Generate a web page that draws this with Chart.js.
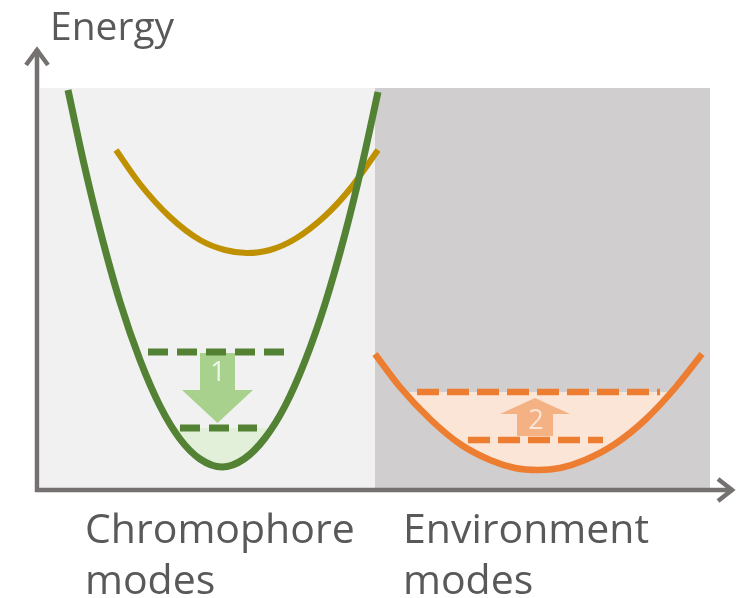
<!DOCTYPE html>
<html>
<head>
<meta charset="utf-8">
<script src="https://cdn.jsdelivr.net/npm/chart.js@4.4.0/dist/chart.umd.min.js"></script>
<style>
    html, body { margin: 0; padding: 0; background: #fff; }
</style>
</head>
<body>
<canvas id="energyChart" width="742" height="598"></canvas>
<script>
// chromophore ground state (green) and excited state (gold) curves
const groundX = [2.8, 4.4, 6.0, 8.0, 10.0, 12.0, 14.0, 16.0, 18.2, 20.4, 22.5, 24.5, 26.5, 28.5, 30.5, 32.2, 33.8];
const groundY = [39.8, 32.4, 25.8, 18.6, 12.8, 8.2, 4.9, 2.9, 2.1, 2.9, 5.0, 8.2, 12.7, 18.4, 25.4, 32.3, 39.6];
const excitedX = [7.6, 10.0, 13.0, 16.0, 18.5, 20.7, 23.0, 25.5, 28.5, 31.0, 33.8];
const excitedY = [33.8, 30.4, 27.1, 24.8, 23.8, 23.5, 23.8, 24.9, 27.2, 29.9, 33.8];

// environment modes (orange)
const envX = [33.5, 36.0, 39.0, 42.0, 45.0, 47.5, 49.8, 52.0, 54.5, 57.5, 60.5, 63.5, 66.2];
const envY = [13.4, 10.1, 6.9, 4.4, 2.8, 2.0, 1.8, 2.0, 2.8, 4.4, 6.8, 10.0, 13.4];

// filled (populated) part of each well
const groundFillX = [13.2, 14.0, 16.0, 18.2, 20.4, 22.5, 23.2];
const groundFillY = [6.0, 4.9, 2.9, 2.1, 2.9, 5.0, 6.0];
const envFillX = [36.4, 39.0, 42.0, 45.0, 47.5, 49.8, 52.0, 54.5, 57.5, 60.5, 63.2];
const envFillY = [9.6, 6.9, 4.4, 2.8, 2.0, 1.8, 2.0, 2.8, 4.4, 6.8, 9.6];

// vibrational levels (dashed)
const chromLevelY = [13.6, 6.0];
const chromLevelStart = [10.8, 14.0];
const chromLevelEnd = [24.7, 21.7];
const envLevelY = [9.6, 4.8];
const envLevelStart = [37.7, 42.8];
const envLevelEnd = [62.0, 56.3];

// block arrows (energy transfer 1 -> 2)
const arrow1X = [16.0, 19.5, 19.5, 21.3, 17.75, 14.2, 16.0, 16.0];
const arrow1Y = [13.5, 13.5, 9.8, 9.8, 6.5, 9.8, 9.8, 13.5];
const arrow2X = [47.7, 51.3, 51.3, 53.0, 49.5, 46.0, 47.7, 47.7];
const arrow2Y = [5.2, 5.2, 7.4, 7.4, 9.0, 7.4, 7.4, 5.2];
const arrowLabels = ['1', '2'];
const arrowLabelX = [17.8, 49.6];
const arrowLabelY = [11.5, 6.7];

// shaded panels
const panelEdges = [0, 33.5, 67];
const panelColors = ['#f1f1f1', '#d0cece'];
const axisTitle = 'Energy';
const categoryLabels = [['Chromophore', 'modes'], ['Environment', 'modes']];

const pts = (xs, ys) => xs.map((x, i) => ({ x: x, y: ys[i] }));

function curve(xs, ys, color, width, order) {
    return {
        data: pts(xs, ys),
        borderColor: color,
        borderWidth: width,
        pointRadius: 0,
        cubicInterpolationMode: 'monotone',
        fill: false,
        clip: false,
        order: order
    };
}

function level(y, x0, x1, color, width, dash) {
    return {
        data: [{ x: x0, y: y }, { x: x1, y: y }],
        borderColor: color,
        borderWidth: width,
        borderDash: dash,
        pointRadius: 0,
        fill: false,
        order: 1
    };
}

function shape(xs, ys, color, order) {
    return {
        data: pts(xs, ys),
        borderWidth: 0,
        borderColor: 'rgba(0,0,0,0)',
        backgroundColor: color,
        pointRadius: 0,
        tension: 0,
        fill: 'shape',
        order: order
    };
}

const datasets = [
    curve(groundX, groundY, '#548235', 7, 0),
    curve(excitedX, excitedY, '#bf9000', 6, 0),
    curve(envX, envY, '#ed7d31', 6.5, 0)
];
chromLevelY.forEach((y, i) => datasets.push(level(y, chromLevelStart[i], chromLevelEnd[i], '#548235', 7, [20, 9])));
envLevelY.forEach((y, i) => datasets.push(level(y, envLevelStart[i], envLevelEnd[i], '#ed7d31', 6.5, [22, 8])));
datasets.push(shape(arrow1X, arrow1Y, '#a9d18e', 2));
datasets.push(shape(arrow2X, arrow2Y, '#f4b183', 2));
datasets.push(shape(groundFillX, groundFillY, '#e2f0d9', 3));
datasets.push(shape(envFillX, envFillY, '#fbe5d6', 3));

// panels behind, axes + text on top
const decorations = {
    id: 'decorations',
    beforeDatasetsDraw(chart) {
        const { ctx, chartArea, scales: { x } } = chart;
        ctx.save();
        panelColors.forEach((c, i) => {
            const x0 = x.getPixelForValue(panelEdges[i]);
            const x1 = x.getPixelForValue(panelEdges[i + 1]);
            ctx.fillStyle = c;
            ctx.fillRect(x0, chartArea.top, x1 - x0, chartArea.bottom - chartArea.top);
        });
        ctx.restore();
    },
    afterDatasetsDraw(chart) {
        const { ctx, scales: { x, y } } = chart;
        ctx.save();
        ctx.font = '27px "Open Sans"';
        ctx.textAlign = 'center';
        ctx.textBaseline = 'middle';
        const labelColors = ['#eef6e8', '#fbe5d6'];
        arrowLabels.forEach((t, i) => {
            ctx.fillStyle = labelColors[i];
            ctx.fillText(t, x.getPixelForValue(arrowLabelX[i]), y.getPixelForValue(arrowLabelY[i]));
        });
        ctx.restore();
    },
    afterDraw(chart) {
        const { ctx, chartArea } = chart;
        const ax = chartArea.left - 3;
        const ay = chartArea.bottom + 2;
        ctx.save();
        ctx.strokeStyle = '#767171';
        ctx.lineWidth = 4.5;
        ctx.lineCap = 'butt';
        ctx.lineJoin = 'miter';
        // y axis
        ctx.beginPath();
        ctx.moveTo(ax, ay + 2);
        ctx.lineTo(ax, 49);
        ctx.stroke();
        ctx.beginPath();
        ctx.moveTo(ax - 11, 65);
        ctx.lineTo(ax, 50);
        ctx.lineTo(ax + 11, 65);
        ctx.stroke();
        // x axis
        ctx.beginPath();
        ctx.moveTo(ax - 2, ay);
        ctx.lineTo(733, ay);
        ctx.stroke();
        ctx.beginPath();
        ctx.moveTo(718, ay - 11);
        ctx.lineTo(732, ay);
        ctx.lineTo(718, ay + 11);
        ctx.stroke();

        ctx.fillStyle = '#595959';
        ctx.textBaseline = 'alphabetic';
        ctx.textAlign = 'left';
        ctx.font = '39px "Open Sans"';
        ctx.fillText(axisTitle, 50, 40);
        ctx.font = '41px "Open Sans"';
        const starts = [85, 403];
        categoryLabels.forEach((lines, i) => {
            lines.forEach((t, j) => {
                ctx.fillText(t, starts[i], 543 + j * 51);
            });
        });
        ctx.restore();
    }
};

const energyChart = new Chart(document.getElementById('energyChart'), {
    type: 'line',
    data: { datasets: datasets },
    options: {
        responsive: false,
        animation: false,
        layout: { padding: { left: 40, top: 88, right: 32, bottom: 110 } },
        plugins: {
            legend: { display: false },
            tooltip: { enabled: false }
        },
        scales: {
            x: { type: 'linear', min: 0, max: 67, display: false },
            y: { type: 'linear', min: 0, max: 40, display: false }
        }
    },
    plugins: [decorations]
});
</script>
</body>
</html>
